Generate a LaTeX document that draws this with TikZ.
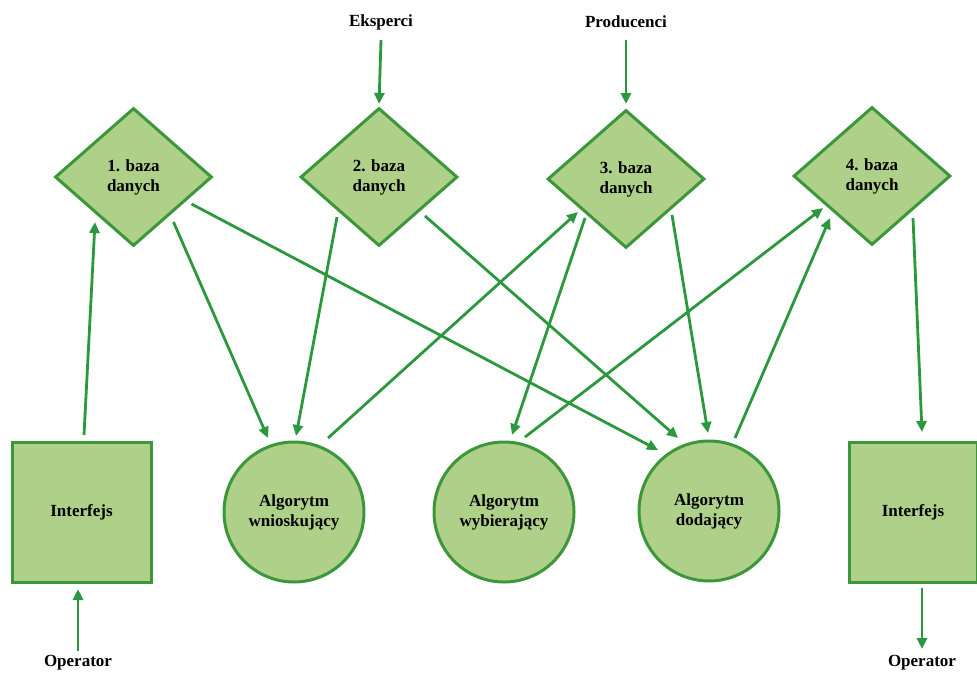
\documentclass[tikz,border=0pt]{standalone}
\usepackage{fontspec}
\setmainfont{Liberation Serif}
\usetikzlibrary{shapes.geometric,arrows.meta}
\definecolor{fillg}{RGB}{174,208,137}
\definecolor{edgeg}{RGB}{60,150,58}
\definecolor{arrg}{RGB}{44,152,62}
\tikzset{
  every node/.style={font=\fontsize{17}{20}\selectfont\bfseries, align=center, text=black},
  dbnode/.style={diamond, draw=edgeg, fill=fillg, line width=3pt, minimum width=157pt, minimum height=138pt, inner sep=0pt},
  algnode/.style={circle, draw=edgeg, fill=fillg, line width=3pt, minimum size=140pt, inner sep=0pt},
  ifnode/.style={rectangle, draw=edgeg, fill=fillg, line width=3pt, minimum height=140pt, inner sep=0pt},
  conn/.style={draw=arrg, line width=2.8pt, -{Triangle[length=11pt,width=10pt]}},
  lbl/.style={inner sep=0pt}
}
\begin{document}
\begin{tikzpicture}[x=1pt,y=-1pt]
\useasboundingbox (0,0) rectangle (977,672);
% diamonds
\node[dbnode] (D1) at (133.5,177) {1. baza\\danych};
\node[dbnode] (D2) at (379,177) {2. baza\\danych};
\node[dbnode] (D3) at (626,179) {3. baza\\danych};
\node[dbnode] (D4) at (872,176) {4. baza\\danych};
% interfaces
\node[ifnode, minimum width=139pt] (IL) at (81.5,512) {Interfejs};
\node[ifnode, minimum width=128pt] (IR) at (913,512) {Interfejs};
% algorithms
\node[algnode] (C1) at (294,512) {Algorytm\\wnioskujący};
\node[algnode] (C2) at (504,512) {Algorytm\\wybierający};
\node[algnode] (C3) at (709,511) {Algorytm\\dodający};
% labels
\node[lbl] (EK) at (381,22) {Eksperci};
\node[lbl] (PR) at (626,22) {Producenci};
\node[lbl] (OL) at (78,663) {Operator};
\node[lbl] (OR) at (922,663) {Operator};
% connectors
\draw[conn] ([shift={(0,18)}]EK.center) -- ([shift={(0,-73)}]D2.center);
\draw[conn] ([shift={(0,18)}]PR.center) -- ([shift={(0,-75)}]D3.center);
\draw[conn] ([shift={(2.5,-77)}]IL.center) -- ([shift={(-38.5,45)}]D1.center);
\draw[conn] ([shift={(40,45)}]D1.center) -- ([shift={(-26,-74)}]C1.center);
\draw[conn] ([shift={(58,27)}]D1.center) -- ([shift={(-51,-61)}]C3.center);
\draw[conn] ([shift={(-42,40)}]D2.center) -- ([shift={(2,-76)}]C1.center);
\draw[conn] ([shift={(46,39)}]D2.center) -- ([shift={(-31,-73)}]C3.center);
\draw[conn] ([shift={(34,-74)}]C1.center) -- ([shift={(-48,33)}]D3.center);
\draw[conn] ([shift={(-41,39)}]D3.center) -- ([shift={(8,-77)}]C2.center);
\draw[conn] ([shift={(46,36)}]D3.center) -- ([shift={(-1,-78)}]C3.center);
\draw[conn] ([shift={(21,-75)}]C2.center) -- ([shift={(-49,32)}]D4.center);
\draw[conn] ([shift={(26,-73)}]C3.center) -- ([shift={(-42,42)}]D4.center);
\draw[conn] ([shift={(41,42)}]D4.center) -- ([shift={(9,-80)}]IR.center);
\draw[conn] ([shift={(0,-12)}]OL.center) -- ([shift={(-3.5,77)}]IL.center);
\draw[conn] ([shift={(9,76)}]IR.center) -- ([shift={(0,-14)}]OR.center);
\end{tikzpicture}
\end{document}
